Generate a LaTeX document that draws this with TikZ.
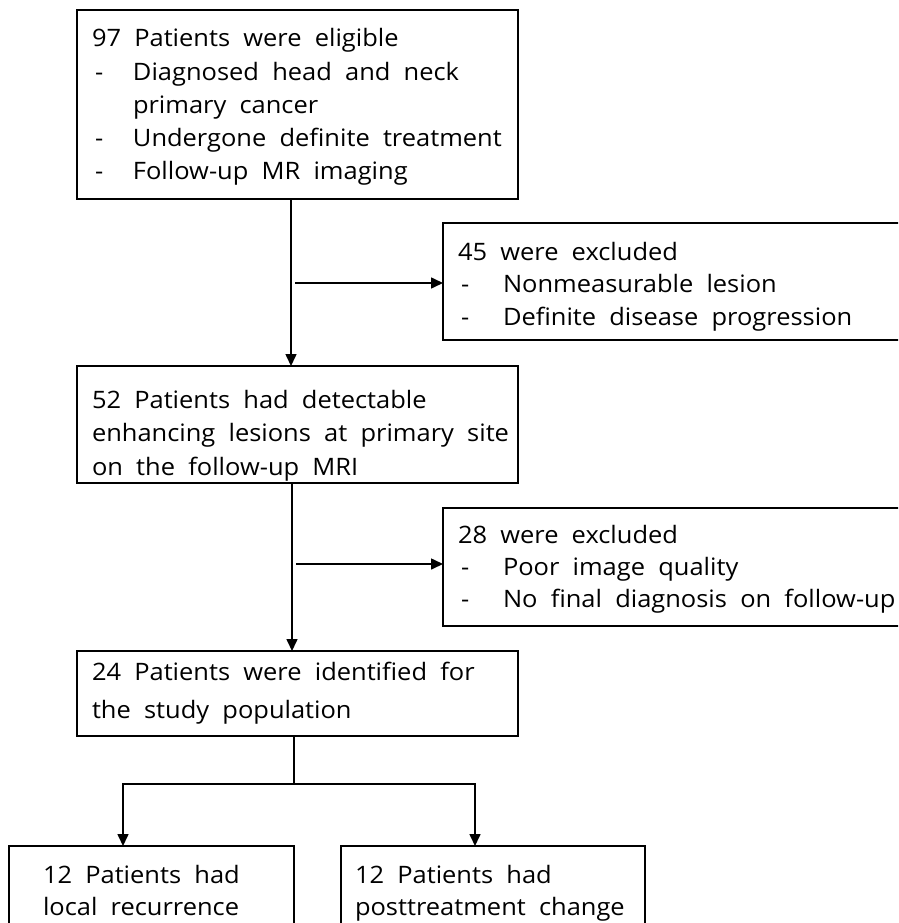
\documentclass[tikz,border=0pt]{standalone}
\usepackage{fontspec}
\setmainfont{Open Sans}[FakeStretch=1.06, WordSpace=2]
\usetikzlibrary{arrows.meta}
\newcommand\dashitem[2][41pt]{\makebox[#1][l]{\hspace{3pt}-}#2}
\newcommand\boxtext[2]{\fontsize{24}{#1}\selectfont\begin{tabular}[t]{@{}l@{}}#2\end{tabular}}
\begin{document}
\begin{tikzpicture}[x=1pt,y=-1pt,
  boxshape/.style={draw=black, line width=2.5pt, rectangle, inner sep=0pt, outer sep=0pt, anchor=north west},
  txt/.style={anchor=base west, inner sep=0pt, outer sep=0pt},
  conn/.style={line width=1.6pt},
  arr/.style={conn, -{Triangle[length=12pt,width=11pt]}}]
\useasboundingbox (0,0) rectangle (898,923);
\fill[white] (0,0) rectangle (898,923);
\clip (0,0) rectangle (898,923);

% boxes
\node[boxshape, minimum width=441pt, minimum height=189pt] (B1) at (77,10) {};
\node[boxshape, minimum width=441pt, minimum height=117pt] (B2) at (77,366) {};
\node[boxshape, minimum width=441pt, minimum height=85pt] (B3) at (77,651) {};
\node[boxshape, minimum width=480pt, minimum height=117pt] (E1) at (443,223) {};
\node[boxshape, minimum width=480pt, minimum height=118pt] (E2) at (443,508) {};
\node[boxshape, minimum width=285pt, minimum height=120pt] (B4) at (9,846) {};
\node[boxshape, minimum width=304pt, minimum height=120pt] (B5) at (341,846) {};

% texts
\node[txt] (T1) at (92,47) {\boxtext{33.2}{97 Patients were eligible\\
  \dashitem{Diagnosed head and neck}\\
  \hspace*{41pt}primary cancer\\
  \dashitem{Undergone definite treatment}\\
  \dashitem{Follow-up MR imaging}}};
\node[txt] (T2) at (92,408) {\boxtext{33.5}{52 Patients had detectable\\
  enhancing lesions at primary site\\
  on the follow-up MRI}};
\node[txt] (T3) at (92,680) {\boxtext{38}{24 Patients were identified for\\
  the study population}};
\node[txt] (T4) at (458,260) {\boxtext{32.5}{45 were excluded\\
  \dashitem[45pt]{Nonmeasurable lesion}\\
  \dashitem[45pt]{Definite disease progression}}};
\node[txt] (T5) at (458,543) {\boxtext{32}{28 were excluded\\
  \dashitem[45pt]{Poor image quality}\\
  \dashitem[45pt]{No final diagnosis on follow-up}}};
\node[txt] (T6) at (43,883) {\boxtext{32}{12 Patients had\\ local recurrence}};
\node[txt] (T7) at (355,883) {\boxtext{32}{12 Patients had\\ posttreatment change}};

% connectors
\coordinate (s1) at (291,283);
\draw[arr] (B1.south -| s1) -- (B2.north -| s1);
\draw[arr] ([xshift=4pt]s1) -- (E1.west |- s1);
\coordinate (s2) at (292,564);
\draw[arr] (B2.south -| s2) -- (B3.north -| s2);
\draw[arr] ([xshift=4pt]s2) -- (E2.west |- s2);
\coordinate (j) at (294,784);
\coordinate (l4) at (123,784);
\coordinate (l5) at (475,784);
\draw[conn] (B3.south -| j) -- (j);
\draw[arr] (j) -| (B4.north -| l4);
\draw[arr] (j) -| (B5.north -| l5);
\end{tikzpicture}
\end{document}
